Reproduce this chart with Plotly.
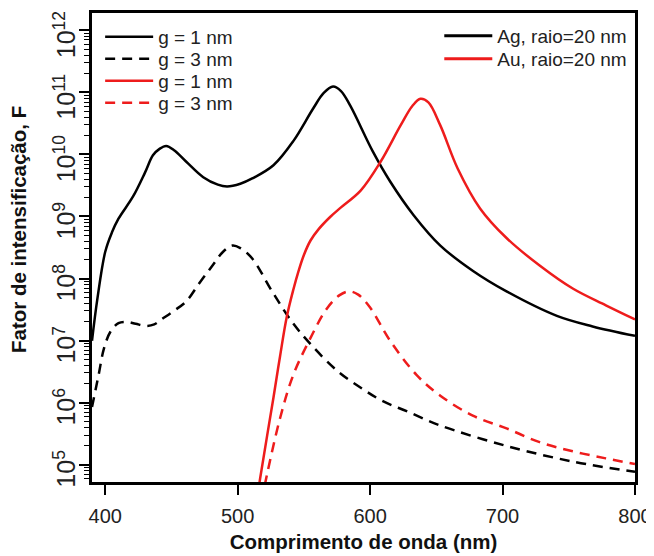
import plotly.graph_objects as go

# Ag, g = 1 nm (black solid)
ag1_wl = [390, 394, 400, 405, 410, 421, 430, 436, 441, 446, 452, 461, 474, 485, 492, 502, 511, 527,
          542, 557, 565, 572, 578, 585, 602, 615, 633, 653, 678, 703, 741, 768, 800]
ag1_F = [9.9e6, 4.6e7, 2.7e8, 5.5e8, 9.2e8, 2.1e9, 5.1e9, 9.7e9, 1.23e10, 1.37e10, 1.17e10, 7.7e9, 4.3e9,
         3.26e9, 3.05e9, 3.37e9, 4.1e9, 6.7e9, 1.64e10, 5.5e10, 9.8e10, 1.24e11, 1.05e11, 6.1e10, 1.12e10,
         3.7e9, 1.04e9, 3.4e8, 1.31e8, 6.2e7, 2.5e7, 1.69e7, 1.19e7]

# Ag, g = 3 nm (black dashed)
ag3_wl = [390, 395, 399, 404, 410, 416, 423, 431, 437, 443, 452, 461, 471, 481, 489, 496, 502, 511,
          526, 541, 556, 576, 594, 609, 628, 653, 703, 753, 800]
ag3_F = [8.5e5, 2.8e6, 7.4e6, 1.4e7, 1.91e7, 2.0e7, 1.86e7, 1.72e7, 1.82e7, 2.23e7, 3.03e7, 4.26e7, 8.4e7,
         1.62e8, 2.7e8, 3.4e8, 3.1e8, 2.1e8, 6.2e7, 2.0e7, 8.3e6, 3.14e6, 1.68e6, 1.07e6, 7.2e5,
         4.27e5, 2.0e5, 1.12e5, 7.65e4]

# Au, g = 1 nm (red solid)
au1_wl = [514, 517, 527, 532, 537, 542, 546, 550, 555, 561, 570, 578, 593, 608, 623, 632, 638, 644,
          653, 666, 683, 703, 728, 753, 778, 800]
au1_F = [2.2e4, 6.1e4, 1.2e6, 5.6e6, 2.38e7, 6.6e7, 1.33e8, 2.4e8, 4.1e8, 6.2e8, 9.9e8, 1.4e9, 2.64e9,
         7.7e9, 2.94e10, 6.1e10, 7.9e10, 6.9e10, 2.94e10, 6.0e9, 1.35e9, 4.5e8, 1.62e8, 6.9e7, 3.7e7, 2.19e7]

# Au, g = 3 nm (red dashed)
au3_wl = [518, 522, 532, 542, 554, 567, 577, 584, 591, 600, 615, 635, 653, 678, 703, 728, 753, 778, 800]
au3_F = [2.5e4, 6.7e4, 5.6e5, 2.8e6, 1.0e7, 3.2e7, 5.4e7, 6.2e7, 5.5e7, 3.4e7, 1.0e7, 2.8e6, 1.29e6,
         6.1e5, 3.84e5, 2.3e5, 1.64e5, 1.26e5, 1.02e5]

x_ticks = [400, 500, 600, 700, 800]

BLACK = "#000000"
RED = "#EE1C1C"
FONT = "Liberation Sans"
DASH = "10px,7px"
TXT = "#222222"

fig = go.Figure()
series = [
    (ag1_wl, ag1_F, BLACK, "solid", "g = 1 nm", "legend"),
    (ag3_wl, ag3_F, BLACK, DASH, "g = 3 nm", "legend2"),
    (au1_wl, au1_F, RED, "solid", "g = 1 nm", "legend3"),
    (au3_wl, au3_F, RED, DASH, "g = 3 nm", "legend4"),
]
for wl, F, col, dash, name, lg in series:
    fig.add_trace(go.Scatter(x=wl, y=F, mode="lines", name=name, legend=lg, showlegend=True,
                             line=dict(color=col, width=2.5, dash=dash, shape="spline", smoothing=1.0)))

for col, name, lg in [(BLACK, "Ag, raio=20 nm", "legend5"), (RED, "Au, raio=20 nm", "legend6")]:
    fig.add_trace(go.Scatter(x=[None], y=[None], mode="lines", name=name, legend=lg, showlegend=True,
                             line=dict(color=col, width=3)))


def leg(x, y, xanchor):
    return dict(x=x, y=y, xanchor=xanchor, yanchor="middle", bgcolor="rgba(0,0,0,0)",
                font=dict(size=19, family=FONT, color=TXT), itemwidth=48)


# row centres in page pixels -> paper coordinates of the plot area (top 13, bottom 482)
def py(px):
    return (482 - px) / 469.0


fig.update_layout(
    width=646, height=548,
    margin=dict(l=84, r=19, t=5, b=74),
    showlegend=True,
    paper_bgcolor="white", plot_bgcolor="white",
    font=dict(family=FONT, color=TXT, size=20),
    legend=leg(0.015, py(37), "left"),
    legend2=leg(0.015, py(59), "left"),
    legend3=leg(0.015, py(81), "left"),
    legend4=leg(0.015, py(103), "left"),
    legend5=leg(0.995, py(36), "right"),
    legend6=leg(0.995, py(59), "right"),
    annotations=[dict(text="Fator de intensificação, F", textangle=-90, showarrow=False,
                      xref="paper", yref="paper", x=0, y=py(230), xanchor="center", yanchor="middle",
                      xshift=-74, font=dict(size=20.5, family=FONT, color="#111111", weight="bold"))],
)
fig.update_xaxes(
    range=[390, 800], tickvals=x_ticks, ticks="outside", ticklen=10, tickwidth=1.5, tickcolor="black",
    showline=True, mirror=True, linewidth=3, linecolor="black", showgrid=False, zeroline=False,
    automargin=False, ticklabelstandoff=4, ticklabeloverflow="allow",
    tickfont=dict(size=20, family=FONT, color=TXT),
    title=dict(text="Comprimento de onda (nm)", font=dict(size=20.5, family=FONT, color="#111111", weight="bold"),
               standoff=9),
)
fig.update_yaxes(
    type="log", range=[4.72, 12.28], dtick=1, exponentformat="power", tickangle=-90,
    ticks="outside", ticklen=10, tickwidth=1.5, tickcolor="black",
    minor=dict(ticks="outside", ticklen=5, tickwidth=1, tickcolor="black", dtick="D1", showgrid=False),
    showline=True, mirror=True, linewidth=3, linecolor="black", showgrid=False, zeroline=False,
    automargin=False, ticklabelstandoff=-5, ticklabelshift=8, ticklabeloverflow="allow",
    tickfont=dict(size=20, family=FONT, color=TXT),
)

fig.write_html("out.html")
